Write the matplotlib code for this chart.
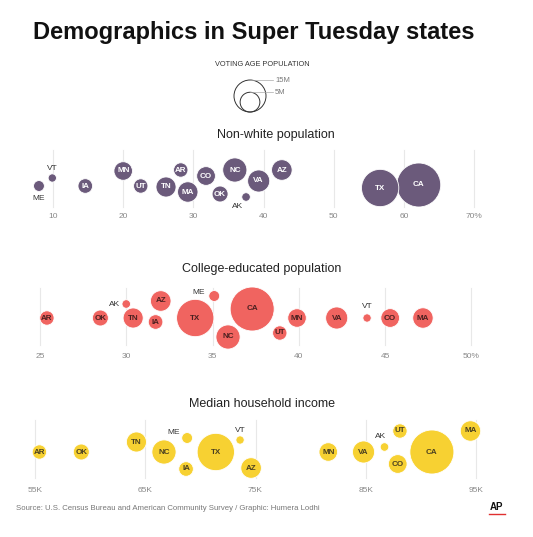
import matplotlib.pyplot as plt
import numpy as np

W, H = 533, 537
fig = plt.figure(figsize=(W / 100, H / 100), dpi=100)
plt.rcParams['font.family'] = ['Liberation Sans', 'DejaVu Sans']

# voting age population, millions
states = ['AK', 'AR', 'AZ', 'CA', 'CO', 'IA', 'MA', 'ME', 'MN', 'NC', 'OK', 'TN', 'TX', 'UT', 'VA', 'VT']
pop = [0.55, 2.3, 5.5, 30, 4.4, 2.4, 5.4, 1.1, 4.3, 8.0, 3.0, 5.2, 21, 2.3, 6.5, 0.5]

# non-white population, %  (y = swarm offset in px)
nonwhite = [37.5, 28.2, 42.6, 62.1, 31.8, 14.6, 29.2, 8.0, 20.0, 35.9, 33.8, 26.1, 56.6, 22.5, 39.3, 9.9]
nonwhite_y = [197, 170, 170, 185, 176, 186, 192, 186, 171, 170, 194, 187, 188, 186, 181, 178]

# college-educated population, %
college = [30.0, 25.4, 32.0, 37.3, 45.3, 31.7, 47.2, 35.1, 39.9, 35.9, 28.5, 30.4, 34.0, 38.9, 42.2, 43.96]
college_y = [304, 318, 301, 309, 318, 322, 318, 296, 318, 337, 318, 318, 318, 333, 318, 318]

# median household income, $K
income = [86.7, 55.4, 74.6, 91.0, 87.9, 68.7, 94.5, 68.8, 81.6, 66.7, 59.2, 64.2, 71.4, 88.1, 84.8, 73.6]
income_y = [447, 452, 468, 452, 464, 469, 431, 438, 452, 452, 452, 442, 452, 431, 452, 440]

outside = {'AK', 'ME', 'VT'}


def radius(p):
    return 1.5 + 20.5 * np.sqrt(p / 30.0)


def size(p):
    return (2 * radius(p) * 0.72) ** 2


def panel(vals, ys, x0, px0, ppu, band, ticks, ticklabels, grid, label_y, color, txtcol, outpos):
    ax = fig.add_axes([0, 1 - band[1] / H, 1, (band[1] - band[0]) / H])
    ax.set_xlim(x0 - px0 / ppu, x0 + (W - px0) / ppu)
    ax.set_ylim(band[1], band[0])
    ax.axis('off')
    for t, tl in zip(ticks, ticklabels):
        ax.plot([t, t], grid, color='#e8e8e8', lw=0.8, zorder=0)
        ax.text(t, label_y, tl, ha='center', va='center', fontsize=6, color='#888888')
    s = [size(p) for p in pop]
    ax.scatter(vals, ys, s=s, color=color, edgecolor='white', linewidth=0.6, zorder=2)
    for st, v, y, p in zip(states, vals, ys, pop):
        if st in outside:
            dx, dy, ha = outpos[st]
            ax.text(v + dx / ppu, y + dy, st, ha=ha, va='center', fontsize=6, color='#333333', zorder=3)
        else:
            ax.text(v, y, st, ha='center', va='center', fontsize=5.8, color=txtcol,
                    fontweight='bold', zorder=3)
    return ax


panel(nonwhite, nonwhite_y, 10, 53, 7.02, (140, 230), [10, 20, 30, 40, 50, 60, 70],
      ['10', '20', '30', '40', '50', '60', '70%'], [150, 207], 217, '#6b5a7b', 'white',
      {'ME': (0, 13, 'center'), 'VT': (0, -10, 'center'), 'AK': (-9, 9, 'center')})
panel(college, college_y, 25, 40, 17.25, (280, 370), [25, 30, 35, 40, 45, 50],
      ['25', '30', '35', '40', '45', '50%'], [288, 345], 357, '#f06460', '#4a2020',
      {'ME': (-9, -3, 'right'), 'VT': (0, -12, 'center'), 'AK': (-6, 0, 'right')})
panel(income, income_y, 55, 35, 11.025, (410, 500), [55, 65, 75, 85, 95],
      ['55K', '65K', '75K', '85K', '95K'], [420, 478], 491, '#f7d132', '#4a4020',
      {'ME': (-14, -6, 'center'), 'VT': (0, -9, 'center'), 'AK': (-4, -10, 'center')})

# overlay for titles and legend, in pixel coordinates
ov = fig.add_axes([0, 0, 1, 1])
ov.set_xlim(0, W)
ov.set_ylim(H, 0)
ov.axis('off')
ov.text(33, 32, 'Demographics in Super Tuesday states', fontsize=17, fontweight='bold',
        va='center', color='#111111')
ov.text(262, 65, 'VOTING AGE POPULATION', fontsize=5.3, ha='center', va='center', color='#333333')
for p, lab in [(15, '15M'), (5, '5M')]:
    r = radius(p)
    ov.add_patch(plt.Circle((250, 112 - r), r, fill=False, ec='#333333', lw=0.7))
    ov.plot([250, 273], [112 - 2 * r, 112 - 2 * r], color='#aaaaaa', lw=0.5)
    ov.text(275, 112 - 2 * r, lab, fontsize=5.5, va='center', color='#777777')
ov.text(276, 135, 'Non-white population', fontsize=9, ha='center', va='center', color='#222222')
ov.text(262, 269, 'College-educated population', fontsize=9, ha='center', va='center', color='#222222')
ov.text(262, 404, 'Median household income', fontsize=9, ha='center', va='center', color='#222222')
ov.text(16, 508, 'Source: U.S. Census Bureau and American Community Survey / Graphic: Humera Lodhi',
        fontsize=5.6, va='center', color='#777777')
ov.text(497, 507, 'AP', fontsize=7, fontweight='bold', ha='center', va='center', color='#111111')
ov.plot([489, 505], [514, 514], color='#e03030', lw=1)

fig.savefig('out.png', dpi=100)
